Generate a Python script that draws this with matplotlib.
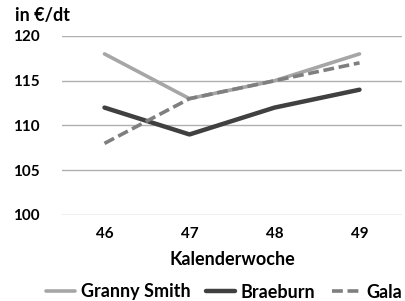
import matplotlib
matplotlib.use('Agg')
import matplotlib.pyplot as plt

weeks = ['46', '47', '48', '49']
granny_smith = [118, 113, 115, 118]
braeburn = [112, 109, 112, 114]
gala = [108, 113, 115, 117]

plt.rcParams['font.family'] = ['Lato', 'DejaVu Sans']
plt.rcParams['font.weight'] = 'bold'

fig = plt.figure(figsize=(4.05, 3.01), dpi=100)
ax = fig.add_axes([62 / 405, 86 / 301, 340 / 405, 179 / 301])

x = range(len(weeks))
ax.plot(x, granny_smith, color='#a6a6a6', lw=2.6, label='Granny Smith', solid_capstyle='round')
ax.plot(x, braeburn, color='#404040', lw=3.2, label='Braeburn', solid_capstyle='round')
ax.plot(x, gala, color='#7f7f7f', lw=2.6, ls=(0, (3, 1.3)), label='Gala')

ax.set_xlim(-0.5, 3.5)
ax.set_ylim(100, 120)
ax.set_yticks([100, 105, 110, 115, 120])
ax.set_xticks(list(x))
ax.set_xticklabels(weeks)
ax.grid(axis='y', color='#b0b0b0', lw=1)
ax.set_axisbelow(True)
for s in ax.spines.values():
    s.set_visible(False)
ax.tick_params(length=0, labelsize=11, colors='black')
ax.tick_params(axis='y', pad=16)
ax.tick_params(axis='x', pad=9)

ax.set_xlabel('Kalenderwoche', fontsize=13, fontweight='bold', labelpad=7)
fig.text(15 / 405, 1 - 15 / 301, 'in €/dt', fontsize=13, fontweight='bold', va='center')

fig.legend(loc='center', bbox_to_anchor=(224 / 405, 1 - 292 / 301), ncol=3, frameon=False,
           fontsize=13, handlelength=1.6, handletextpad=0.3, columnspacing=0.9)

fig.savefig('out.png', dpi=100)
